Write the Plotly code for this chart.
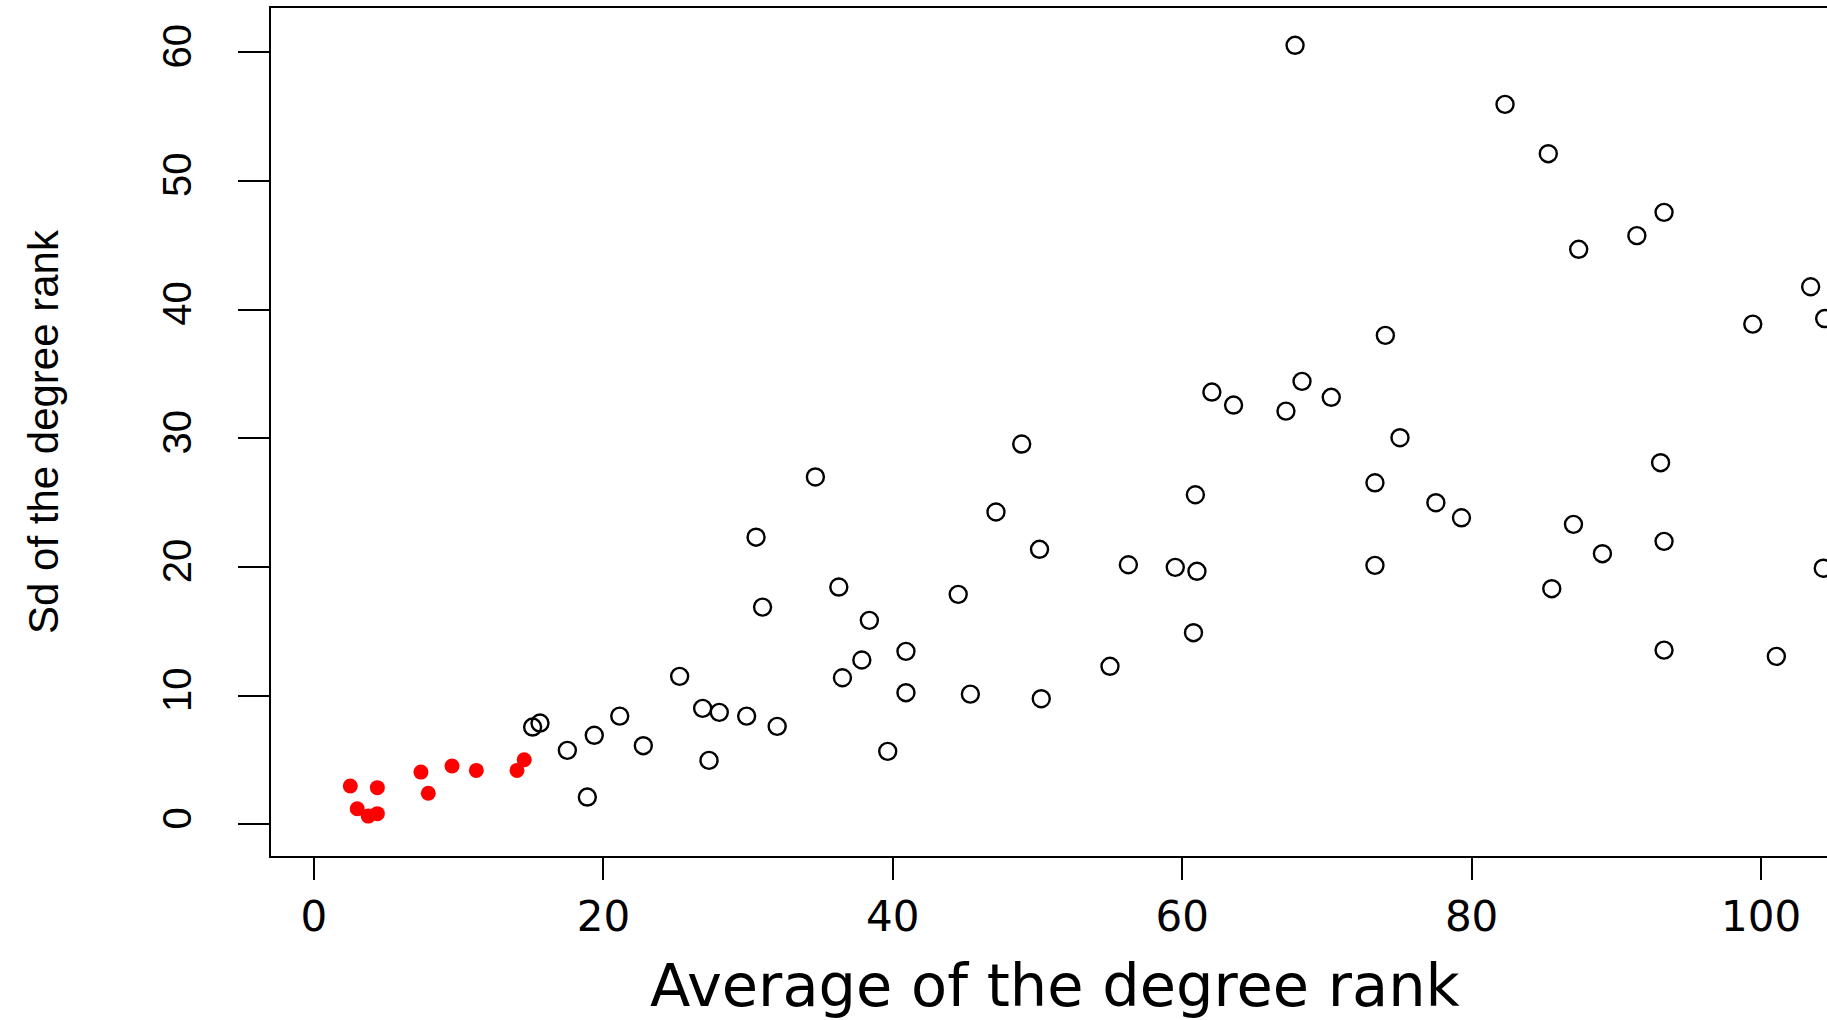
import plotly.graph_objects as go

# ---- data ----
open_x = [15.11, 15.62, 17.51, 19.37, 21.13, 18.89, 22.76, 25.27, 26.86, 28.01,
          27.30, 29.90, 30.55, 31.00, 32.01, 34.65, 36.27, 36.52, 37.86, 38.38,
          39.65, 40.91, 40.91, 44.52, 45.36, 47.13, 48.91, 50.14, 50.26, 55.01,
          56.28, 59.52, 60.78, 60.91, 61.02, 62.05, 63.55, 67.17, 67.80, 68.28,
          70.30, 73.32, 73.32, 74.04, 75.05, 77.53, 79.30, 82.31, 85.30, 85.54,
          87.04, 87.40, 89.04, 91.42, 93.06, 93.30, 93.30, 93.30, 99.43, 101.06,
          103.43, 104.40, 104.30]
open_y = [7.56, 7.87, 5.75, 6.92, 8.41, 2.12, 6.11, 11.50, 9.01, 8.70,
          4.97, 8.41, 22.31, 16.88, 7.61, 26.99, 18.44, 11.39, 12.77, 15.85,
          5.67, 13.44, 10.23, 17.87, 10.12, 24.27, 29.55, 21.37, 9.76, 12.28,
          20.17, 19.97, 14.89, 25.61, 19.66, 33.59, 32.58, 32.11, 60.53, 34.42,
          33.18, 26.54, 20.12, 37.99, 30.04, 24.99, 23.82, 55.94, 52.11, 18.31,
          23.31, 44.68, 21.03, 45.74, 28.10, 47.55, 21.99, 13.54, 38.87, 13.05,
          41.77, 39.30, 19.90]

red_x = [2.51, 4.38, 2.99, 3.75, 4.38, 7.39, 7.90, 9.54, 11.22, 14.03, 14.53]
red_y = [2.98, 2.85, 1.21, 0.64, 0.83, 4.06, 2.41, 4.53, 4.19, 4.19, 5.02]

x_ticks = [0, 20, 40, 60, 80, 100]
y_ticks = [0, 10, 20, 30, 40, 50, 60]
x_title = "Average of the degree rank"
y_title = "Sd of the degree rank"

# ---- layout geometry ----
W, H = 1827, 1020
L, R, T, B = 271, 0, 8, 164
PW, PH = W - L - R, H - T - B


def px_to_paper_x(px):
    return (px - L) / PW


def px_to_paper_y(py):
    return (H - B - py) / PH


fig = go.Figure()
fig.add_trace(go.Scatter(
    x=open_x, y=open_y, mode="markers",
    marker=dict(symbol="circle-open", size=17, color="black",
                line=dict(color="black", width=2.4)),
    showlegend=False, hoverinfo="x+y"))
fig.add_trace(go.Scatter(
    x=red_x, y=red_y, mode="markers",
    marker=dict(symbol="circle", size=15, color="#ff0000",
                line=dict(width=0)),
    showlegend=False, hoverinfo="x+y"))

fig.update_layout(
    width=W, height=H,
    margin=dict(l=L, r=R, t=T, b=B, pad=0),
    paper_bgcolor="white", plot_bgcolor="white",
    showlegend=False,
    xaxis=dict(range=[-2.97, 104.56], tickmode="array", tickvals=x_ticks,
               ticktext=[str(v) for v in x_ticks],
               showgrid=False, zeroline=False,
               showline=True, linecolor="black", linewidth=2, mirror=True,
               ticks="outside", ticklen=22, tickwidth=1.5, tickcolor="black",
               ticklabelstandoff=1,
               tickfont=dict(family="DejaVu Sans", size=42, color="black")),
    yaxis=dict(range=[-2.46, 63.43], tickmode="array", tickvals=y_ticks,
               ticktext=[str(v) for v in y_ticks],
               showgrid=False, zeroline=False,
               showline=True, linecolor="black", linewidth=2,
               ticks="outside", ticklen=31, tickwidth=1.5, tickcolor="black",
               tickangle=-90, ticklabelstandoff=31,
               tickfont=dict(family="Liberation Sans, Arial", size=40, color="black")),
    annotations=[
        dict(text=x_title, xref="paper", yref="paper",
             x=px_to_paper_x(1055), y=px_to_paper_y(986),
             xanchor="center", yanchor="middle", showarrow=False,
             font=dict(family="DejaVu Sans", size=59, color="black")),
        dict(text=y_title, xref="paper", yref="paper", textangle=-90,
             x=px_to_paper_x(43), y=px_to_paper_y(432),
             xanchor="center", yanchor="middle", showarrow=False,
             font=dict(family="Liberation Sans, Arial", size=42, color="black")),
    ],
)

fig.write_html("out.html", config={"displayModeBar": False},
               post_script="document.body.style.margin='0';")
